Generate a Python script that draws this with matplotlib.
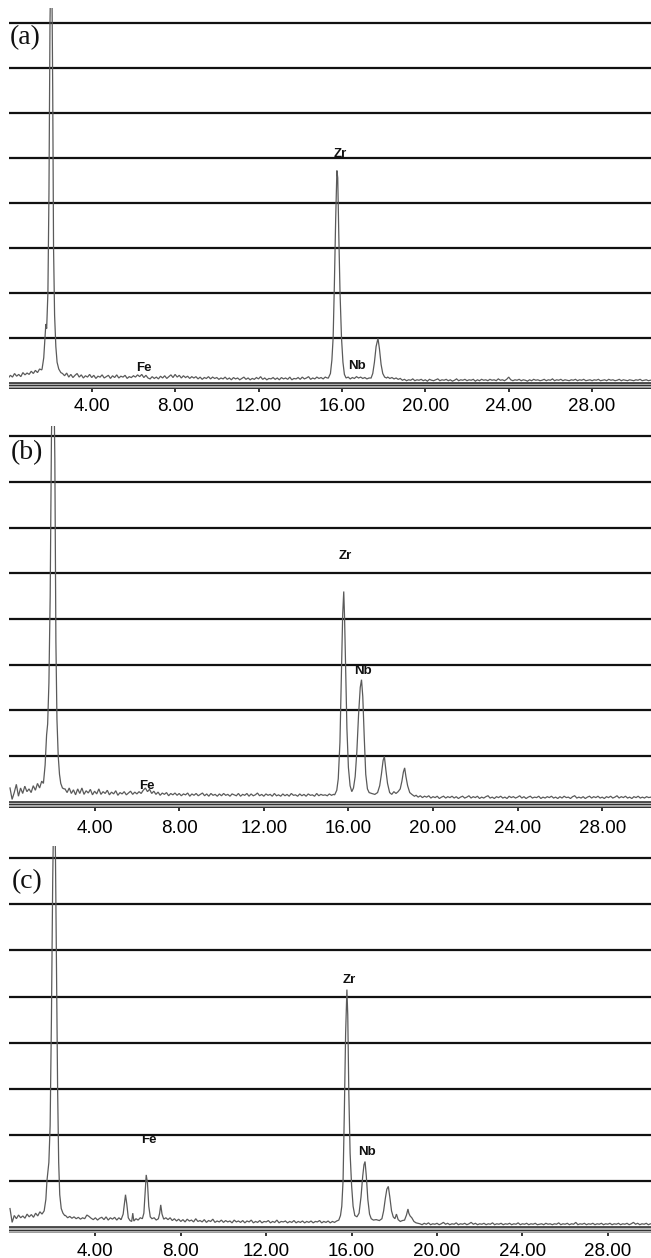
import numpy as np
import matplotlib
matplotlib.use("Agg")
import matplotlib.pyplot as plt

# ---------------- data (energy in keV, counts in grid units) ----------------
STEP = 0.1
tick_values = [4, 8, 12, 16, 20, 24, 28]
tick_labels = ["4.00", "8.00", "12.00", "16.00", "20.00", "24.00", "28.00"]
panel_names = ["(a)", "(b)", "(c)"]
element_names = ["Zr", "Nb", "Fe"]

# background noise sampled every 0.1 keV from 0.0 keV (one row = 1 keV)
bg_a = [0.10, 0.16, 0.12, 0.20, 0.14, 0.18, 0.13, 0.22, 0.17, 0.21,
        0.18, 0.25, 0.20, 0.27, 0.22, 0.30, 0.28, 0.30, 0.30, 0.30,
        0.30, 0.30, 0.30, 0.30, 0.30, 0.30, 0.20, 0.15, 0.21, 0.12,
        0.18, 0.11, 0.16, 0.20, 0.12, 0.17, 0.10, 0.15, 0.12, 0.18,
        0.11, 0.16, 0.09, 0.14, 0.12, 0.17, 0.10, 0.13, 0.16, 0.09,
        0.15, 0.11, 0.17, 0.10, 0.14, 0.12, 0.16, 0.09, 0.13, 0.11,
        0.15, 0.12, 0.17, 0.13, 0.18, 0.11, 0.16, 0.10, 0.08, 0.13,
        0.09, 0.12, 0.08, 0.14, 0.10, 0.15, 0.09, 0.13, 0.17, 0.11,
        0.18, 0.12, 0.16, 0.10, 0.15, 0.11, 0.14, 0.09, 0.13, 0.10,
        0.13, 0.08, 0.12, 0.07, 0.11, 0.09, 0.13, 0.08, 0.12, 0.09,
        0.11, 0.07, 0.10, 0.08, 0.12, 0.07, 0.10, 0.06, 0.11, 0.08,
        0.10, 0.06, 0.09, 0.12, 0.07, 0.10, 0.06, 0.09, 0.07, 0.11,
        0.08, 0.13, 0.07, 0.10, 0.06, 0.09, 0.08, 0.11, 0.07, 0.10,
        0.06, 0.11, 0.08, 0.10, 0.07, 0.12, 0.06, 0.09, 0.08, 0.11,
        0.07, 0.12, 0.08, 0.10, 0.13, 0.07, 0.10, 0.08, 0.12, 0.09,
        0.11, 0.08, 0.12, 0.10, 0.10, 0.10, 0.10, 0.10, 0.10, 0.10,
        0.10, 0.10, 0.10, 0.12, 0.08, 0.11, 0.09, 0.13, 0.10, 0.12,
        0.09, 0.11, 0.08, 0.10, 0.10, 0.10, 0.10, 0.10, 0.10, 0.10,
        0.10, 0.10, 0.12, 0.09, 0.11, 0.08, 0.10, 0.07, 0.09, 0.05,
        0.07, 0.04, 0.06, 0.05, 0.08, 0.04, 0.06, 0.05, 0.07, 0.04,
        0.06, 0.03, 0.07, 0.05, 0.04, 0.06, 0.08, 0.04, 0.06, 0.05,
        0.07, 0.04, 0.06, 0.03, 0.05, 0.08, 0.04, 0.06, 0.05, 0.07,
        0.04, 0.06, 0.05, 0.07, 0.03, 0.06, 0.04, 0.07, 0.05, 0.06,
        0.04, 0.07, 0.05, 0.06, 0.04, 0.08, 0.05, 0.06, 0.04, 0.07,
        0.12, 0.06, 0.04, 0.06, 0.05, 0.07, 0.04, 0.06, 0.05, 0.03,
        0.06, 0.04, 0.07, 0.05, 0.06, 0.04, 0.05, 0.07, 0.04, 0.06,
        0.05, 0.08, 0.04, 0.06, 0.05, 0.07, 0.04, 0.06, 0.05, 0.04,
        0.06, 0.05, 0.07, 0.04, 0.06, 0.05, 0.07, 0.04, 0.05, 0.06,
        0.04, 0.06, 0.05, 0.07, 0.04, 0.05, 0.06, 0.04, 0.07, 0.05,
        0.06, 0.04, 0.05, 0.07, 0.04, 0.06, 0.05, 0.04, 0.06, 0.05,
        0.04, 0.06, 0.05, 0.07, 0.04, 0.05, 0.06, 0.04, 0.05]

bg_b = [0.30, 0.05, 0.20, 0.38, 0.12, 0.30, 0.18, 0.34, 0.22, 0.28,
        0.20, 0.35, 0.25, 0.40, 0.30, 0.45, 0.40, 0.40, 0.40, 0.40,
        0.40, 0.40, 0.40, 0.40, 0.40, 0.40, 0.28, 0.20, 0.30, 0.18,
        0.26, 0.15, 0.28, 0.18, 0.30, 0.16, 0.24, 0.19, 0.27, 0.15,
        0.23, 0.17, 0.28, 0.16, 0.22, 0.18, 0.25, 0.15, 0.21, 0.17,
        0.24, 0.14, 0.20, 0.17, 0.22, 0.15, 0.19, 0.23, 0.16, 0.21,
        0.17, 0.22, 0.18, 0.25, 0.30, 0.22, 0.27, 0.18, 0.23, 0.16,
        0.21, 0.14, 0.19, 0.16, 0.20, 0.13, 0.18, 0.15, 0.19, 0.14,
        0.18, 0.13, 0.17, 0.15, 0.19, 0.12, 0.17, 0.14, 0.18, 0.13,
        0.16, 0.19, 0.13, 0.17, 0.12, 0.18, 0.14, 0.16, 0.12, 0.17,
        0.13, 0.18, 0.14, 0.16, 0.12, 0.17, 0.15, 0.13, 0.18, 0.12,
        0.16, 0.14, 0.18, 0.12, 0.17, 0.13, 0.15, 0.19, 0.13, 0.16,
        0.12, 0.17, 0.14, 0.16, 0.12, 0.18, 0.13, 0.15, 0.12, 0.17,
        0.13, 0.16, 0.12, 0.18, 0.14, 0.15, 0.12, 0.17, 0.13, 0.16,
        0.12, 0.17, 0.14, 0.15, 0.12, 0.18, 0.13, 0.16, 0.14, 0.15,
        0.13, 0.17, 0.14, 0.16, 0.20, 0.20, 0.20, 0.20, 0.20, 0.20,
        0.20, 0.20, 0.20, 0.20, 0.20, 0.20, 0.20, 0.20, 0.20, 0.20,
        0.20, 0.20, 0.20, 0.20, 0.20, 0.20, 0.20, 0.20, 0.20, 0.20,
        0.20, 0.20, 0.20, 0.20, 0.20, 0.20, 0.20, 0.20, 0.20, 0.20,
        0.20, 0.20, 0.14, 0.10, 0.13, 0.09, 0.12, 0.10, 0.13, 0.08,
        0.11, 0.09, 0.12, 0.07, 0.10, 0.12, 0.08, 0.11, 0.09, 0.12,
        0.08, 0.11, 0.07, 0.10, 0.12, 0.08, 0.10, 0.13, 0.08, 0.11,
        0.09, 0.12, 0.07, 0.10, 0.08, 0.11, 0.13, 0.08, 0.10, 0.07,
        0.11, 0.09, 0.12, 0.08, 0.10, 0.07, 0.12, 0.09, 0.11, 0.08,
        0.10, 0.13, 0.08, 0.11, 0.07, 0.10, 0.12, 0.08, 0.10, 0.09,
        0.12, 0.07, 0.10, 0.08, 0.11, 0.09, 0.12, 0.08, 0.10, 0.07,
        0.11, 0.08, 0.12, 0.09, 0.10, 0.07, 0.11, 0.13, 0.08, 0.10,
        0.08, 0.11, 0.07, 0.10, 0.12, 0.08, 0.11, 0.09, 0.12, 0.08,
        0.10, 0.07, 0.11, 0.09, 0.12, 0.08, 0.10, 0.13, 0.08, 0.11,
        0.09, 0.12, 0.08, 0.10, 0.07, 0.11, 0.09, 0.12, 0.08, 0.10,
        0.08, 0.11, 0.09, 0.10, 0.07, 0.11, 0.09, 0.10, 0.08]

bg_c = [0.40, 0.10, 0.25, 0.18, 0.26, 0.20, 0.24, 0.19, 0.28, 0.22,
        0.27, 0.21, 0.30, 0.24, 0.33, 0.28, 0.40, 0.40, 0.40, 0.40,
        0.40, 0.40, 0.40, 0.40, 0.40, 0.40, 0.25, 0.20, 0.23, 0.19,
        0.22, 0.18, 0.21, 0.17, 0.20, 0.18, 0.26, 0.23, 0.19, 0.16,
        0.20, 0.15, 0.19, 0.21, 0.16, 0.22, 0.15, 0.20, 0.17, 0.21,
        0.15, 0.20, 0.16, 0.20, 0.20, 0.20, 0.20, 0.20, 0.20, 0.20,
        0.20, 0.20, 0.20, 0.20, 0.20, 0.20, 0.20, 0.20, 0.20, 0.20,
        0.20, 0.20, 0.20, 0.20, 0.16, 0.20, 0.14, 0.18, 0.13, 0.17,
        0.12, 0.16, 0.11, 0.17, 0.13, 0.15, 0.11, 0.18, 0.12, 0.14,
        0.11, 0.16, 0.10, 0.14, 0.12, 0.17, 0.10, 0.13, 0.11, 0.15,
        0.10, 0.14, 0.11, 0.13, 0.09, 0.15, 0.11, 0.13, 0.10, 0.14,
        0.09, 0.13, 0.11, 0.15, 0.09, 0.12, 0.10, 0.14, 0.09, 0.12,
        0.11, 0.14, 0.09, 0.12, 0.10, 0.15, 0.09, 0.12, 0.11, 0.13,
        0.09, 0.12, 0.10, 0.14, 0.09, 0.12, 0.10, 0.13, 0.09, 0.12,
        0.10, 0.13, 0.09, 0.12, 0.11, 0.14, 0.09, 0.12, 0.10, 0.13,
        0.09, 0.12, 0.10, 0.13, 0.11, 0.20, 0.20, 0.20, 0.20, 0.20,
        0.20, 0.20, 0.20, 0.20, 0.20, 0.20, 0.20, 0.20, 0.20, 0.20,
        0.20, 0.20, 0.20, 0.20, 0.20, 0.20, 0.20, 0.20, 0.20, 0.20,
        0.20, 0.20, 0.20, 0.20, 0.20, 0.20, 0.20, 0.20, 0.20, 0.20,
        0.20, 0.20, 0.07, 0.05, 0.08, 0.06, 0.09, 0.05, 0.07, 0.06,
        0.08, 0.05, 0.07, 0.10, 0.06, 0.08, 0.05, 0.07, 0.06, 0.09,
        0.05, 0.07, 0.06, 0.08, 0.05, 0.07, 0.10, 0.06, 0.08, 0.05,
        0.07, 0.06, 0.08, 0.05, 0.07, 0.06, 0.09, 0.05, 0.07, 0.06,
        0.08, 0.05, 0.07, 0.06, 0.08, 0.05, 0.07, 0.06, 0.09, 0.05,
        0.07, 0.06, 0.08, 0.05, 0.07, 0.06, 0.08, 0.05, 0.06, 0.07,
        0.05, 0.08, 0.06, 0.07, 0.05, 0.07, 0.06, 0.09, 0.05, 0.07,
        0.06, 0.08, 0.05, 0.07, 0.06, 0.10, 0.05, 0.07, 0.06, 0.08,
        0.05, 0.07, 0.06, 0.08, 0.05, 0.07, 0.06, 0.08, 0.05, 0.07,
        0.06, 0.08, 0.05, 0.07, 0.06, 0.08, 0.05, 0.07, 0.06, 0.08,
        0.05, 0.07, 0.10, 0.06, 0.08, 0.05, 0.07, 0.06, 0.08, 0.05,
        0.07, 0.06, 0.08, 0.05, 0.07, 0.06, 0.08, 0.05, 0.07]

# peak regions (energy, counts)
a_main_x = [1.62, 1.70, 1.76, 1.80, 1.84, 1.90, 1.95, 2.00, 2.05, 2.09, 2.13, 2.17, 2.22, 2.28, 2.34, 2.42, 2.52]
a_main_y = [0.30, 0.55, 1.00, 1.30, 1.20, 2.00, 4.20, 8.00, 9.60, 9.00, 6.50, 3.00, 1.50, 0.80, 0.45, 0.30, 0.22]
a_zr_x = [15.35, 15.45, 15.52, 15.58, 15.64, 15.70, 15.76, 15.80, 15.85, 15.91, 15.98, 16.05, 16.12, 16.20]
a_zr_y = [0.10, 0.20, 0.50, 1.00, 2.20, 3.60, 4.71, 4.55, 3.30, 2.00, 1.00, 0.45, 0.18, 0.10]
a_kb_x = [17.40, 17.48, 17.56, 17.64, 17.73, 17.80, 17.88, 17.96, 18.05, 18.14]
a_kb_y = [0.10, 0.20, 0.45, 0.80, 0.98, 0.75, 0.40, 0.20, 0.12, 0.10]

b_main_x = [1.58, 1.66, 1.73, 1.78, 1.84, 1.90, 1.96, 2.02, 2.07, 2.12, 2.17, 2.22, 2.28, 2.34, 2.40, 2.48, 2.56]
b_main_y = [0.40, 0.80, 1.46, 1.70, 2.60, 4.50, 8.00, 9.60, 9.40, 7.50, 3.50, 1.80, 1.00, 0.60, 0.40, 0.30, 0.28]
b_zrnb_x = [15.35, 15.45, 15.52, 15.60, 15.67, 15.73, 15.78, 15.82, 15.87, 15.93,
            16.00, 16.08, 16.16, 16.24, 16.32, 16.40, 16.48, 16.56, 16.62, 16.68,
            16.75, 16.82, 16.90, 16.98, 17.10, 17.25, 17.38, 17.48, 17.56, 17.64,
            17.70, 17.77, 17.85, 17.95, 18.05, 18.15, 18.25, 18.35, 18.45, 18.53,
            18.60, 18.66, 18.72, 18.80, 18.90, 19.00, 19.12]
b_zrnb_y = [0.15, 0.25, 0.50, 1.30, 2.80, 4.10, 4.60, 4.00, 2.90, 1.60,
            0.75, 0.35, 0.22, 0.30, 0.55, 1.10, 1.90, 2.50, 2.67, 2.30,
            1.40, 0.60, 0.28, 0.20, 0.18, 0.16, 0.20, 0.35, 0.60, 0.90,
            0.99, 0.70, 0.40, 0.20, 0.16, 0.22, 0.18, 0.22, 0.28, 0.45,
            0.65, 0.74, 0.55, 0.35, 0.20, 0.16, 0.12]

c_main_x = [1.60, 1.68, 1.73, 1.77, 1.82, 1.88, 1.94, 2.00, 2.05, 2.09, 2.13, 2.18, 2.23, 2.28, 2.33, 2.40, 2.48, 2.56]
c_main_y = [0.35, 0.60, 1.00, 1.17, 1.40, 2.20, 4.50, 7.50, 9.20, 9.50, 8.00, 5.50, 3.00, 1.40, 0.70, 0.40, 0.30, 0.25]
c_crfe_x = [5.22, 5.30, 5.36, 5.41, 5.47, 5.54, 5.62, 5.70, 5.75, 5.80,
            5.90, 6.00, 6.10, 6.20, 6.27, 6.33, 6.38, 6.44, 6.50, 6.57,
            6.65, 6.75, 6.85, 6.95, 7.01, 7.06, 7.12, 7.20, 7.30]
c_crfe_y = [0.18, 0.28, 0.50, 0.70, 0.50, 0.20, 0.14, 0.12, 0.30, 0.13,
            0.18, 0.15, 0.20, 0.18, 0.30, 0.75, 1.13, 0.95, 0.45, 0.22,
            0.18, 0.20, 0.15, 0.18, 0.30, 0.48, 0.28, 0.17, 0.20]
c_zrnb_x = [15.40, 15.48, 15.54, 15.60, 15.66, 15.72, 15.78, 15.82, 15.87, 15.93,
            16.00, 16.07, 16.15, 16.25, 16.35, 16.44, 16.52, 16.58, 16.63, 16.69,
            16.76, 16.84, 16.92, 17.02, 17.15, 17.30, 17.42, 17.50, 17.58, 17.65,
            17.72, 17.79, 17.87, 17.95, 18.03, 18.10, 18.18, 18.28, 18.38, 18.48,
            18.57, 18.64, 18.68, 18.74, 18.82, 18.92, 19.02, 19.12]
c_zrnb_y = [0.15, 0.25, 0.45, 1.00, 2.50, 4.20, 5.15, 4.60, 2.90, 1.60,
            0.90, 0.45, 0.25, 0.22, 0.30, 0.65, 1.10, 1.35, 1.42, 1.10,
            0.60, 0.28, 0.18, 0.15, 0.16, 0.14, 0.18, 0.35, 0.62, 0.82,
            0.88, 0.65, 0.35, 0.22, 0.18, 0.28, 0.16, 0.12, 0.14, 0.15,
            0.26, 0.39, 0.30, 0.24, 0.20, 0.12, 0.09, 0.08]

# element label positions (energy, counts): Zr, Nb, Fe
a_label_x = [15.9, 16.7, 6.5]
a_label_y = [5.07, 0.36, 0.33]
b_label_x = [15.85, 16.7, 6.49]
b_label_y = [5.37, 2.85, 0.35]
c_label_x = [15.9, 16.73, 6.49]
c_label_y = [5.35, 1.62, 1.89]

# ---------------- helpers ----------------
def build(bg, segments):
    x = np.round(np.arange(len(bg)) * STEP, 2)
    y = np.asarray(bg, float)
    keep = np.ones(len(x), bool)
    for sx, sy in segments:
        assert len(sx) == len(sy)
        keep &= ~((x >= min(sx) - 1e-6) & (x <= max(sx) + 1e-6))
    X = np.concatenate([x[keep]] + [np.asarray(s[0], float) for s in segments])
    Y = np.concatenate([y[keep]] + [np.asarray(s[1], float) for s in segments])
    o = np.argsort(X)
    return X[o], Y[o]

W, H = 651, 1258
fig = plt.figure(figsize=(W / 100, H / 100), dpi=100)
fig.patch.set_facecolor("white")

# layout per panel: (top_px, y0_px, px_per_unit_y, x0_px, px_per_unit_x, label_center_px, tick pad)
layouts = [
    (8, 382.5, 45.0, 8.3, 20.85, (25, 38), 4.0),
    (426, 801.7, 45.7, 10.0, 21.15, (27, 453), 6.0),
    (846, 1227.0, 46.1, 10.0, 21.35, (27, 882), 4.5),
]
spectra = [
    build(bg_a, [(a_main_x, a_main_y), (a_zr_x, a_zr_y), (a_kb_x, a_kb_y)]),
    build(bg_b, [(b_main_x, b_main_y), (b_zrnb_x, b_zrnb_y)]),
    build(bg_c, [(c_main_x, c_main_y), (c_crfe_x, c_crfe_y), (c_zrnb_x, c_zrnb_y)]),
]
labels_xy = [(a_label_x, a_label_y), (b_label_x, b_label_y), (c_label_x, c_label_y)]

left_px, right_px = 9, 651
ybot = -0.14
for i, (top_px, y0_px, sy, x0_px, sx, lab_c, pad) in enumerate(layouts):
    bottom_px = y0_px - ybot * sy
    ax = fig.add_axes([left_px / W, 1 - bottom_px / H,
                       (right_px - left_px) / W, (bottom_px - top_px) / H])
    ax.set_xlim((left_px - x0_px) / sx, (right_px - x0_px) / sx)
    ax.set_ylim(ybot, (y0_px - top_px) / sy)
    for s in ax.spines.values():
        s.set_visible(False)
    ax.set_facecolor("none")

    # horizontal grid lines
    for g in range(1, 9):
        ax.axhline(g, color="#111111", lw=1.6, zorder=1)

    # bottom axis band
    ax.axhspan(-0.12, 0.0, color="#b8b8b8", lw=0, zorder=2)
    for yy, lw in [(0.0, 1.2), (-0.06, 0.8), (-0.12, 1.0)]:
        ax.axhline(yy, color="#333333", lw=lw, zorder=3)

    # spectrum
    X, Y = spectra[i]
    ax.plot(X, Y, color="#5a5a5a", lw=0.9, zorder=4, solid_joinstyle="miter")

    ax.set_yticks([])
    ax.set_xticks(tick_values)
    ax.set_xticklabels(tick_labels, fontsize=13.5, family="Liberation Sans")
    ax.tick_params(axis="x", direction="inout", length=5, width=1.3,
                   color="#222222", pad=pad)

    lx, ly = labels_xy[i]
    for name, xx, yy in zip(element_names, lx, ly):
        ax.text(xx, yy, name, ha="center", va="center", fontsize=9.5,
                fontweight="bold", family="Liberation Sans", color="#111111", zorder=5)

    fig.text(lab_c[0] / W, 1 - lab_c[1] / H, panel_names[i], ha="center", va="center",
             fontsize=20, family="Liberation Serif", color="#111111")

fig.savefig("out.png", dpi=100, facecolor="white")
